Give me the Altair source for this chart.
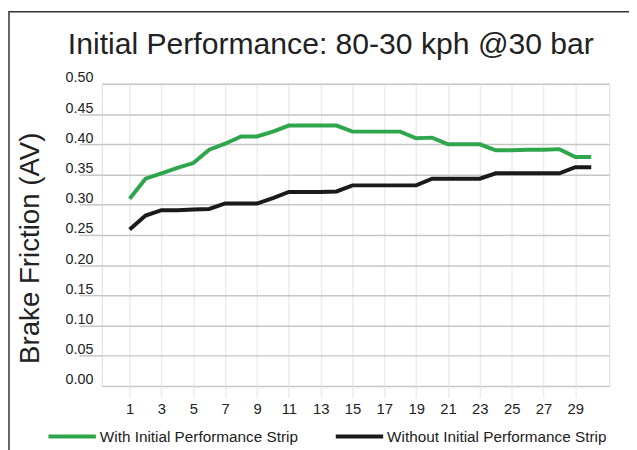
import altair as alt
import pandas as pd

# ---- data ----
runs = list(range(1, 31))
with_strip = [0.310, 0.343, 0.352, 0.361, 0.369, 0.391, 0.401, 0.413, 0.413, 0.421,
              0.431, 0.431, 0.431, 0.431, 0.421, 0.421, 0.421, 0.421, 0.410, 0.411,
              0.400, 0.400, 0.400, 0.390, 0.390, 0.391, 0.391, 0.392, 0.379, 0.379]
without_strip = [0.259, 0.282, 0.291, 0.291, 0.292, 0.293, 0.302, 0.302, 0.302, 0.311,
                 0.321, 0.321, 0.321, 0.322, 0.332, 0.332, 0.332, 0.332, 0.332, 0.343,
                 0.343, 0.343, 0.343, 0.352, 0.352, 0.352, 0.352, 0.352, 0.362, 0.362]
series_names = ["With Initial Performance Strip", "Without Initial Performance Strip"]
series_colors = ["#2ea64c", "#1a1a1a"]
x_ticks = [1, 3, 5, 7, 9, 11, 13, 15, 17, 19, 21, 23, 25, 27, 29]
y_ticks = [0.0, 0.05, 0.10, 0.15, 0.20, 0.25, 0.30, 0.35, 0.40, 0.45, 0.50]
chart_title = "Initial Performance: 80-30 kph @30 bar"

df = pd.DataFrame({
    "run": runs * 2,
    "friction": with_strip + without_strip,
    "series": [series_names[0]] * len(runs) + [series_names[1]] * len(runs),
})

FONT = "Liberation Sans"
GRID = "#c6c6c6"

lines = alt.Chart(df).mark_line(strokeWidth=4).encode(
    x=alt.X(
        "run:Q",
        scale=alt.Scale(domain=[-0.75, 31.13], nice=False, zero=False),
        axis=alt.Axis(
            values=x_ticks, title=None, grid=True, gridColor="#ececec", gridWidth=1.5,
            domain=False, ticks=True, tickColor="#ececec", tickWidth=1.5, tickSize=12,
            labelPadding=4, labelFontSize=15, labelColor="#222222", labelFont=FONT,
            labelFlush=False, labelOverlap=False,
        ),
    ),
    y=alt.Y(
        "friction:Q",
        scale=alt.Scale(domain=[0, 0.5], nice=False),
        axis=alt.Axis(
            values=y_ticks, format=".2f", title="Brake Friction (AV)",
            titleFont=FONT, titleFontSize=28, titleFontWeight="normal", titleColor="#222222",
            titleAngle=270, titleX=-72, titleY=166, titleAlign="center", titleBaseline="middle",
            grid=True, gridColor=GRID, gridWidth=1.5, domain=False,
            ticks=True, tickSize=23, tickWidth=1.5,
            tickColor={"condition": {"test": "datum.value <= 0.001 || datum.value >= 0.499",
                                     "value": "transparent"}, "value": GRID},
            labelPadding=-14, labelFontSize=14.5, labelColor="#222222", labelFont=FONT,
            labelBaseline="alphabetic", labelOffset=-2, labelFlush=False, labelOverlap=False,
        ),
    ),
    color=alt.Color(
        "series:N",
        scale=alt.Scale(domain=series_names, range=series_colors),
        sort=series_names,
        legend=alt.Legend(
            title=None, orient="none", legendX=-56, legendY=331, direction="horizontal",
            symbolType="stroke", symbolStrokeWidth=4, symbolSize=2304,
            labelFont=FONT, labelFontSize=15.5, labelColor="#222222", labelOffset=2,
            labelLimit=0, columnPadding=30, padding=0,
        ),
    ),
)

title = alt.Chart(pd.DataFrame({"t": [chart_title]})).mark_text(
    font=FONT, fontSize=30.5, color="#222222", align="center", baseline="alphabetic"
).encode(text="t:N", x=alt.value(232), y=alt.value(-30.5))

border = alt.Chart(pd.DataFrame({"k": [0]})).mark_rect(
    filled=False, stroke="#333333", strokeWidth=1.5
).encode(
    x=alt.value(-94), x2=alt.value(700), y=alt.value(-73), y2=alt.value(600)
)

chart = alt.layer(lines, title, border).properties(
    width=514,
    height=306,
    autosize=alt.AutoSizeParams(type="none"),
    padding={"left": 95, "top": 74, "right": 20, "bottom": 62},
).configure_view(stroke=GRID, strokeWidth=1.5).configure(background="white")

chart.save("out.html", embed_options={"renderer": "svg", "actions": False})
